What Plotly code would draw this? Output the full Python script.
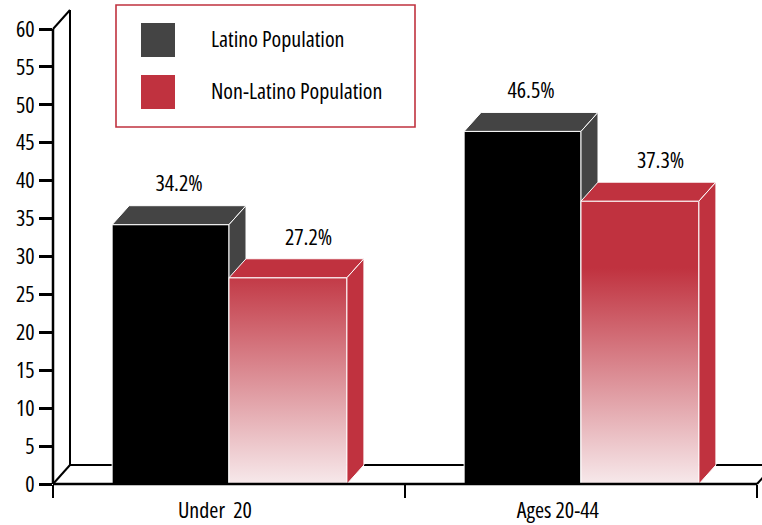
import plotly.graph_objects as go

# ---------------- data ----------------
categories = ["Under\u00a0 20", "Ages 20-44"]
series_names = ["Latino Population", "Non-Latino Population"]
latino_values = [34.2, 46.5]
non_latino_values = [27.2, 37.3]
y_tick_values = [0, 5, 10, 15, 20, 25, 30, 35, 40, 45, 50, 55, 60]

# ---------------- style ----------------
W, H = 762, 525
M_L, M_R, M_T, M_B = 53, 0, 3, 41
PX_PER_X = 352.0
PX_PER_Y = 455.0 / 60.0
X0 = -0.5
X1 = X0 + (W - M_L - M_R) / PX_PER_X
Y0 = 0.0
Y1 = (H - M_T - M_B) / PX_PER_Y
AX_MAX = 60
CAT_MAX = len(categories) - 0.5

BAR_W = 0.332
DX = 17.0 / PX_PER_X      # depth offset (x units)
DY = 2.5                  # depth offset (y units)

FONT = "Open Sans, Roboto, sans-serif"
FS = 22
TXT = "#000000"
LAT_FRONT = "#000000"
LAT_DARK = "#444444"
RED = "#c0323f"
PALE = "#f7e9eb"
LABEL_SHIFTS = [-0.04, -0.066]


def cond(s):
    return f'<span style="font-stretch:condensed">{s}</span>'


def px(xv):
    return (xv - X0) / (X1 - X0)


def py(yv):
    return (yv - Y0) / (Y1 - Y0)


fig = go.Figure()


def poly(xs, ys, color=None, gradient=None):
    kw = dict(x=xs + [xs[0]], y=ys + [ys[0]], mode="lines", fill="toself",
              line=dict(color="white", width=1), hoverinfo="skip", showlegend=False)
    if gradient is not None:
        kw["fillgradient"] = gradient
    else:
        kw["fillcolor"] = color
    fig.add_trace(go.Scatter(**kw))


def bar3d(xa, xb, v, front, top, gradient=None):
    poly([xa, xb, xb, xa], [0, 0, v, v], color=front, gradient=gradient)
    poly([xa, xb, xb + DX, xa + DX], [v, v, v + DY, v + DY], color=top)
    poly([xb, xb + DX, xb + DX, xb], [0, DY, v + DY, v], color=top)


grad = dict(type="vertical", colorscale=[[0, PALE], [1, RED]], start=0, stop=28.5)

for i in range(len(categories)):
    bar3d(i - BAR_W, i, latino_values[i], LAT_FRONT, LAT_DARK)
    bar3d(i, i + BAR_W + 0.003, non_latino_values[i], RED, RED, gradient=grad)

# value labels
fig.add_trace(go.Scatter(
    x=[i - BAR_W / 2 + DX / 2 for i in range(len(categories))],
    y=[v + DY + 2.6 for v in latino_values],
    text=[cond(f"{v:.1f}%") for v in latino_values],
    mode="text", textfont=dict(family=FONT, size=FS, color=TXT),
    hoverinfo="skip", showlegend=False))
fig.add_trace(go.Scatter(
    x=[i + BAR_W / 2 + 0.06 for i in range(len(categories))],
    y=[v + DY + 2.6 for v in non_latino_values],
    text=[cond(f"{v:.1f}%") for v in non_latino_values],
    mode="text", textfont=dict(family=FONT, size=FS, color=TXT),
    hoverinfo="skip", showlegend=False))

shapes = []


def seg(xa, ya, xb, yb, width, layer):
    shapes.append(dict(type="line", xref="paper", yref="paper",
                       x0=px(xa), y0=py(ya), x1=px(xb), y1=py(yb),
                       line=dict(color="black", width=width), layer=layer))


# back wall / floor (behind bars)
seg(X0 + DX, DY, X0 + DX, AX_MAX + DY, 2, "below")
seg(X0, AX_MAX, X0 + DX, AX_MAX + DY, 2, "below")
seg(X0, 0, X0 + DX, DY, 2, "below")
seg(X0 + DX, DY, X1 + 0.1, DY, 2, "below")
seg(CAT_MAX, 0, CAT_MAX + DX, DY, 2, "below")
# front axes
seg(X0, 0, X0, AX_MAX, 2.5, "above")
seg(X0, 0, CAT_MAX, 0, 2.5, "above")


# legend (manual)
def ppx(p):
    return (p - M_L) / (W - M_L - M_R)


def ppy(p):
    return (H - M_B - p) / (H - M_T - M_B)


shapes.append(dict(type="rect", xref="paper", yref="paper",
                   x0=ppx(116), x1=ppx(415), y0=ppy(127), y1=ppy(5),
                   line=dict(color=RED, width=1.6), fillcolor="white", layer="above"))
legend_colors = [LAT_DARK, RED]
legend_rows = [40, 92]
annotations = []
for name, col, cy in zip(series_names, legend_colors, legend_rows):
    shapes.append(dict(type="rect", xref="paper", yref="paper",
                       x0=ppx(141), x1=ppx(175), y0=ppy(cy + 17), y1=ppy(cy - 17),
                       line=dict(width=0), fillcolor=col, layer="above"))
    annotations.append(dict(xref="paper", yref="paper", x=ppx(209), y=ppy(cy - 2),
                            xanchor="left", yanchor="middle", text=cond(name), showarrow=False,
                            font=dict(family=FONT, size=FS, color=TXT)))

fig.update_layout(
    width=W, height=H,
    margin=dict(l=M_L, r=M_R, t=M_T, b=M_B, autoexpand=False),
    paper_bgcolor="white", plot_bgcolor="rgba(0,0,0,0)",
    showlegend=False, hovermode=False,
    shapes=shapes, annotations=annotations,
    xaxis=dict(range=[X0, X1], showgrid=False, zeroline=False, showline=False,
               tickmode="array",
               tickvals=[i + s for i, s in enumerate(LABEL_SHIFTS)],
               ticktext=[cond(c) for c in categories],
               ticks="outside", ticklen=0, tickcolor="rgba(0,0,0,0)",
               ticklabelstandoff=7,
               tickfont=dict(family=FONT, size=FS, color=TXT),
               minor=dict(tickmode="array", tickvals=[X0, 0.5, CAT_MAX],
                          ticks="outside", ticklen=13, tickwidth=2, tickcolor="black"),
               fixedrange=True),
    yaxis=dict(range=[Y0, Y1], showgrid=False, zeroline=False, showline=False,
               tickmode="array", tickvals=y_tick_values,
               ticktext=[cond(v) for v in y_tick_values],
               ticks="outside", ticklen=13, tickwidth=2.5, tickcolor="black",
               tickfont=dict(family=FONT, size=FS, color=TXT),
               fixedrange=True),
)

fig.write_html("out.html")
